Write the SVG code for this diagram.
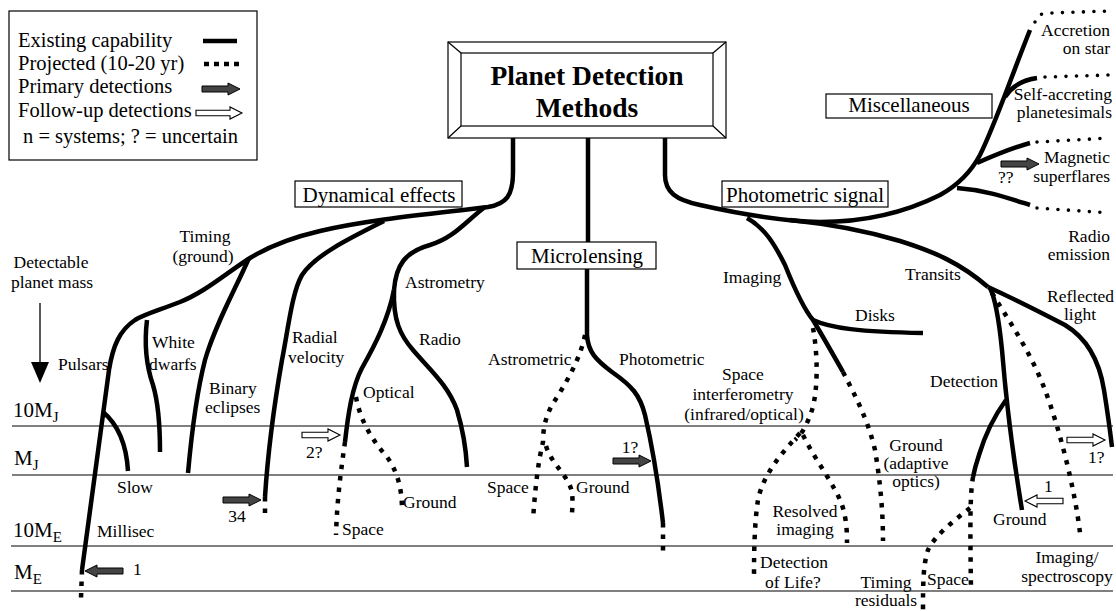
<svg xmlns="http://www.w3.org/2000/svg" xmlns:xlink="http://www.w3.org/1999/xlink" width="1116" height="611" viewBox="0 0 1116 611">
<style>
text{font-family:'Liberation Serif','DejaVu Serif',serif;font-size:17.5px;fill:#000}
.lg{font-size:20.5px}
.big{font-size:21px}
.sub{font-size:15px}
.box{font-size:21px}
.title{font-size:27.5px;font-weight:bold}
.m{text-anchor:middle}
.e{text-anchor:end}
.s{fill:none;stroke:#000;stroke-width:4.5}
.d{fill:none;stroke:#000;stroke-width:4.5;stroke-dasharray:4.5 7}
.r{fill:none;stroke:#000;stroke-width:3.6;stroke-dasharray:0 10.5;stroke-linecap:round}
.ax{stroke:#000;stroke-width:1.2;fill:none}
.frame{fill:#fff;stroke:#000;stroke-width:1.2}
.pa{fill:#444;stroke:#000;stroke-width:1}
.ha{fill:#fff;stroke:#000;stroke-width:1.1}
</style>
<defs>
<path id="pa" class="pa" d="M0,-3 H26 V-6 L38,0 L26,6 V3 H0 Z"/>
<path id="ha" class="ha" d="M0,-2.8 H26 V-6 L38,0 L26,6 V2.8 H0 Z"/>
</defs>
<rect width="1116" height="611" fill="#fff"/>

<g id="axes">
<line class="ax" x1="12" y1="426" x2="1113" y2="426"/>
<line class="ax" x1="12" y1="475" x2="1113" y2="475"/>
<line class="ax" x1="11" y1="546" x2="1113" y2="546"/>
<line class="ax" x1="11" y1="591" x2="1113" y2="591"/>
<text class="big" x="13" y="417">10M<tspan class="sub" dy="5">J</tspan></text>
<text class="big" x="14" y="465">M<tspan class="sub" dy="5">J</tspan></text>
<text class="big" x="13" y="537">10M<tspan class="sub" dy="5">E</tspan></text>
<text class="big" x="14" y="579">M<tspan class="sub" dy="5">E</tspan></text>
<text class="m" x="51" y="268">Detectable</text>
<text class="m" x="52" y="288">planet mass</text>
<line x1="40" y1="303" x2="40" y2="365" stroke="#000" stroke-width="1.3"/>
<path d="M31,362 L49,362 L40,383 Z" fill="#000"/>
</g>

<g id="legend">
<rect class="frame" x="9" y="11" width="248" height="149"/>
<text class="lg" x="18" y="47">Existing capability</text>
<text class="lg" x="18" y="70">Projected (10-20 yr)</text>
<text class="lg" x="18" y="93">Primary detections</text>
<text class="lg" x="18" y="117">Follow-up detections</text>
<text class="lg" x="23" y="143">n = systems; ? = uncertain</text>
<line x1="203" y1="41" x2="237" y2="41" stroke="#000" stroke-width="4.5"/>
<line x1="204" y1="64" x2="240" y2="64" stroke="#000" stroke-width="4.5" stroke-dasharray="5 5"/>
<use xlink:href="#pa" href="#pa" transform="translate(202,89)"/>
<path class="ha" d="M196,110.2 H230 V107 L242,113 L230,119 V115.8 H196 Z"/>
</g>

<g id="title">
<rect class="frame" x="448" y="42" width="278" height="96"/>
<rect class="frame" x="461" y="53" width="252" height="73"/>
<path d="M448,42 L461,53 M726,42 L713,53 M448,138 L461,126 M726,138 L713,126" stroke="#000" stroke-width="1.2"/>
<text class="title m" x="587" y="85">Planet Detection</text>
<text class="title m" x="587" y="117">Methods</text>
</g>

<g id="dynamical">
<rect class="frame" x="295" y="181" width="167" height="26"/>
<text class="box m" x="379" y="202">Dynamical effects</text>
</g>
<g id="microlensing">
<rect class="frame" x="517" y="242" width="139" height="27"/>
<text class="box m" x="587" y="263">Microlensing</text>
</g>
<g id="photometric">
<rect class="frame" x="722" y="181" width="166" height="26"/>
<text class="box m" x="805" y="202">Photometric signal</text>
</g>
<g id="misc">
<rect class="frame" x="826" y="94" width="166" height="24"/>
<text class="box m" x="909" y="112">Miscellaneous</text>
</g>

<g id="connectors">
<path class="s" d="M513,138 V172 C513,196 506,204 488,207 C440,213 370,219 320,231 C290,238 268,247 250,258 C225,274 205,292 180,302 C160,310 145,314 135,320 C120,330 113,345 109,370 L82,570"/>
<path class="d" d="M82,570 L81,598"/>
<path class="s" d="M103,412 C115,422 126,438 128,471"/>
<path class="s" d="M147,320 C144,345 146,365 153,385 C159,405 160,430 160,452"/>
<path class="s" d="M249,258 C235,290 215,325 205,360 C196,395 191,440 188,473"/>
<path class="s" d="M384,221 C350,238 315,255 302,275 C292,292 288,330 282,360 C275,400 268,450 265,497"/>
<path class="d" d="M265,497 L265,514"/>
<path class="s" d="M485,207 C465,222 455,237 430,245 C405,252 396,265 394,290"/>
<path class="s" d="M394,290 C388,320 375,345 362,368 C352,387 348,415 345,442"/>
<path class="d" d="M345,442 C341,470 337,500 336,535"/>
<path class="d" d="M356,397 C360,420 372,440 387,457 C398,472 402,490 402,510"/>
<path class="s" d="M394,290 C393,320 400,335 413,350 C430,370 448,385 457,410 C463,430 466,450 467,467"/>
<path class="s" d="M588,138 V242"/>
<path class="s" d="M587,269 V335 C588,352 596,360 612,372 C632,386 640,395 645,415 C652,445 658,480 663,523"/>
<path class="d" d="M663,523 V552"/>
<path class="d" d="M585,335 C580,360 565,385 552,405 C545,418 543,430 543,442 C538,462 535,490 533,520"/>
<path class="d" d="M546,446 C552,465 568,475 572,492 C573,500 572,510 572,517"/>
<path class="s" d="M665,138 V175 C665,192 676,200 700,205 C740,214 780,221 820,222 C870,222 910,210 940,195 C960,184 972,170 980,155 C995,125 1010,80 1030,30"/>
<path class="s" d="M790,220 C830,224 870,232 900,241 C935,252 960,263 988,287"/>
<path class="s" d="M988,287 C1010,297 1040,312 1065,325 C1090,340 1100,365 1104,390 C1108,415 1110,430 1112,447"/>
<path class="s" d="M990,288 C996,300 999,320 1002,350 C1006,400 1012,450 1022,510"/>
<path class="s" d="M1006,400 C995,415 985,435 979,455 C975,467 974,472 973,477"/>
<path class="d" d="M973,477 C970,495 970,520 971,590"/>
<path class="d" d="M970,508 C955,520 935,535 928,550 C923,565 923,585 923,611"/>
<path class="d" d="M992,293 C1005,315 1030,350 1045,390 C1060,430 1075,490 1080,533"/>
<path class="s" d="M747,218 C765,228 775,245 785,265 C795,290 803,308 813,320 C825,340 835,358 843,372"/>
<path class="d" d="M843,372 C855,395 868,420 875,450 C880,480 883,510 883,541"/>
<path class="s" d="M813,320 C830,328 860,332 923,333"/>
<path class="d" d="M813,328 C818,355 818,390 812,410 C806,428 800,436 795,440"/>
<path class="d" d="M800,433 C780,455 763,475 758,500 C754,525 754,560 754,580"/>
<path class="d" d="M803,435 C815,460 835,485 842,505 C847,520 847,535 847,543"/>
<path class="s" d="M957,188 C985,190 1005,197 1030,205"/>
<path class="r" d="M1037,208 L1110,213"/>
<path class="s" d="M977,163 C995,155 1012,148 1030,143"/>
<path class="r" d="M1037,142 L1110,138"/>
<path class="s" d="M1005,97 C1012,86 1022,80 1037,78"/>
<path class="r" d="M1045,77 L1110,75"/>
<path class="r" d="M1035,22 C1037,15 1042,13 1050,13 L1110,11"/>
<use xlink:href="#pa" href="#pa" transform="translate(223,500)"/>
<use xlink:href="#pa" href="#pa" transform="translate(123,571) scale(-1,1)"/>
<use xlink:href="#pa" href="#pa" transform="translate(613,461)"/>
<use xlink:href="#pa" href="#pa" transform="translate(1001,164)"/>
<use xlink:href="#ha" href="#ha" transform="translate(302,435)"/>
<use xlink:href="#ha" href="#ha" transform="translate(1063,501) scale(-1,1)"/>
<use xlink:href="#ha" href="#ha" transform="translate(1067,440)"/>
</g>

<g id="labels">
<text class="m" x="205" y="242">Timing</text>
<text class="m" x="203" y="262">(ground)</text>
<text x="58" y="370">Pulsars</text>
<text x="152" y="348">White</text>
<text x="149" y="370">dwarfs</text>
<text x="209" y="394">Binary</text>
<text x="205" y="413">eclipses</text>
<text x="117" y="493">Slow</text>
<text x="97" y="537">Millisec</text>
<text class="m" x="237" y="522">34</text>
<text x="133" y="575">1</text>
<text x="292" y="343">Radial</text>
<text x="288" y="363">velocity</text>
<text x="405" y="288">Astrometry</text>
<text x="419" y="345">Radio</text>
<text x="363" y="398">Optical</text>
<text x="306" y="458">2?</text>
<text x="342" y="535">Space</text>
<text x="403" y="508">Ground</text>
<text x="488" y="365">Astrometric</text>
<text x="619" y="365">Photometric</text>
<text x="487" y="493">Space</text>
<text x="576" y="493">Ground</text>
<text class="m" x="630" y="453">1?</text>
<text x="723" y="283">Imaging</text>
<text x="855" y="321">Disks</text>
<text x="905" y="280">Transits</text>
<text class="m" x="743" y="380">Space</text>
<text class="m" x="743" y="400">interferometry</text>
<text class="m" x="744" y="420">(infrared/optical)</text>
<text class="m" x="916" y="451">Ground</text>
<text class="m" x="916" y="469">(adaptive</text>
<text class="m" x="916" y="487">optics)</text>
<text class="m" x="805" y="517">Resolved</text>
<text class="m" x="805" y="535">imaging</text>
<text x="760" y="568">Detection</text>
<text x="765" y="588">of Life?</text>
<text class="m" x="886" y="588">Timing</text>
<text class="m" x="886" y="606">residuals</text>
<text x="927" y="585">Space</text>
<text x="930" y="387">Detection</text>
<text x="1047" y="302">Reflected</text>
<text class="m" x="1080" y="320">light</text>
<text x="993" y="525">Ground</text>
<text x="1044" y="492">1</text>
<text x="1088" y="463">1?</text>
<text class="m" x="1067" y="563">Imaging/</text>
<text class="m" x="1067" y="582">spectroscopy</text>
<text class="e" x="1110" y="36">Accretion</text>
<text class="e" x="1110" y="54">on star</text>
<text class="e" x="1112" y="100">Self-accreting</text>
<text class="e" x="1112" y="118">planetesimals</text>
<text class="e" x="1110" y="163">Magnetic</text>
<text class="e" x="1110" y="182">superflares</text>
<text x="998" y="183">??</text>
<text class="e" x="1110" y="242">Radio</text>
<text class="e" x="1110" y="260">emission</text>
</g>
</svg>
